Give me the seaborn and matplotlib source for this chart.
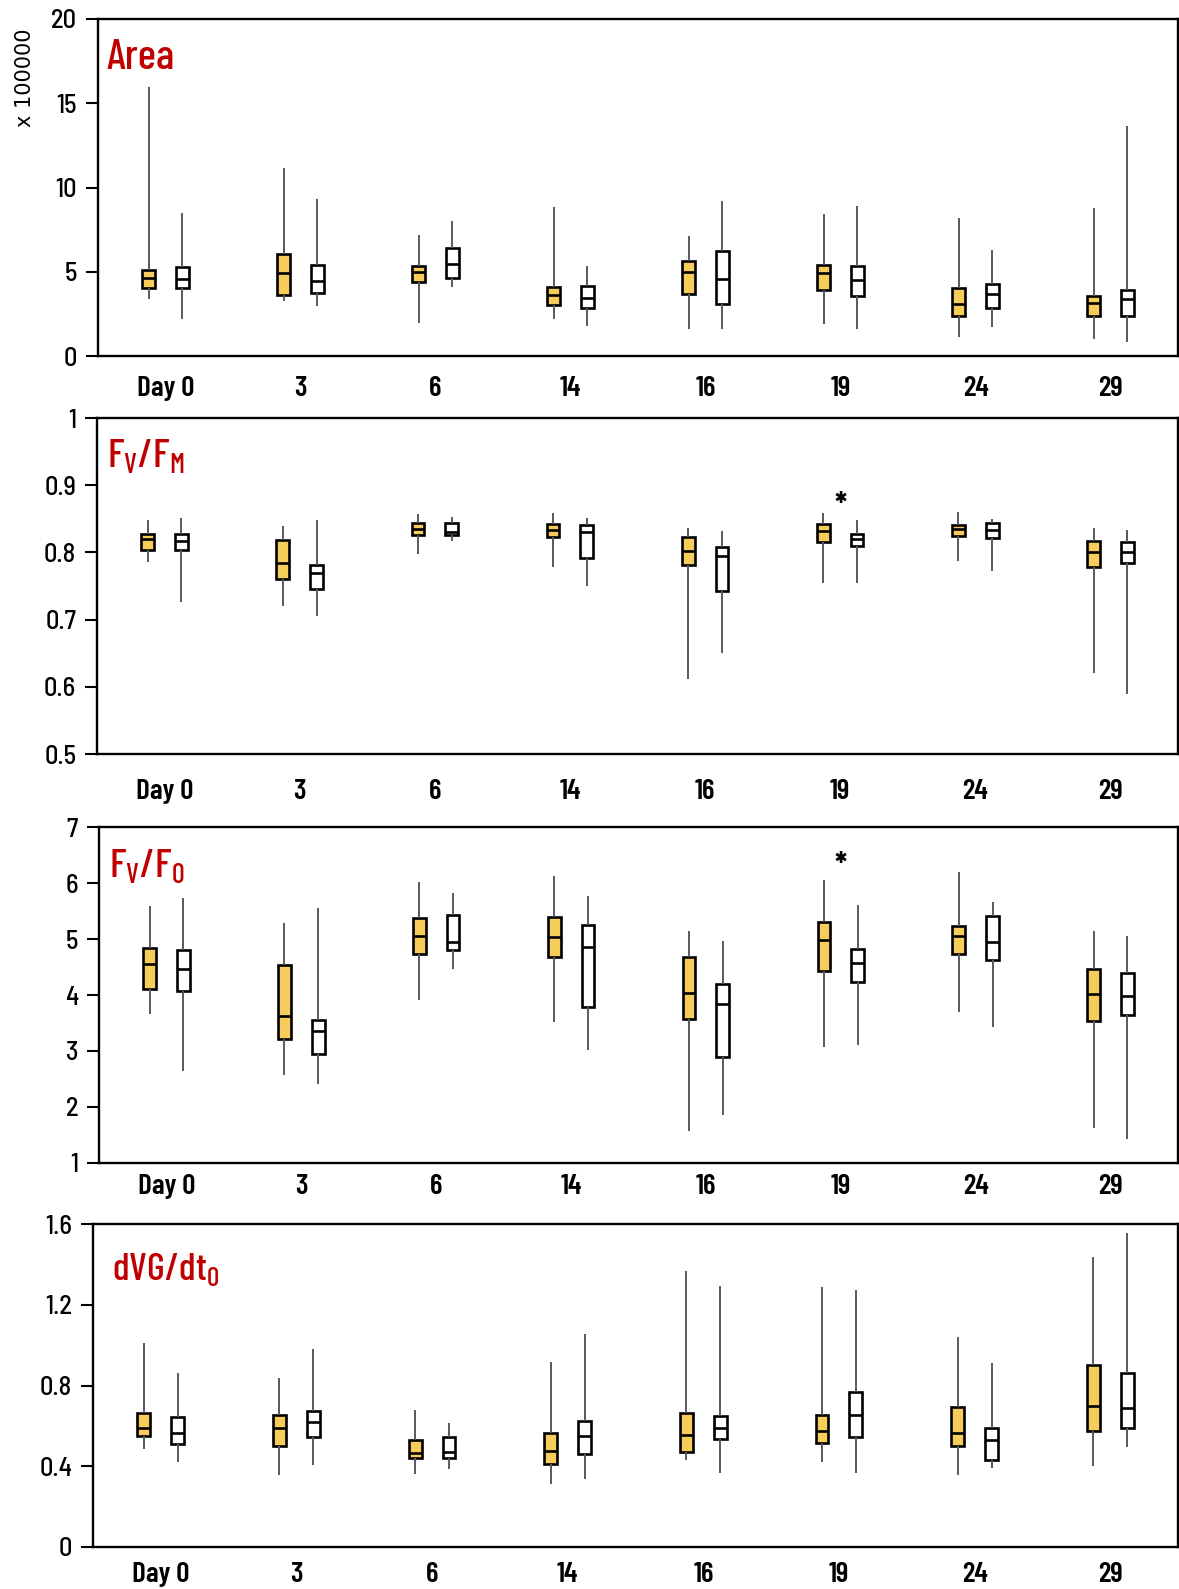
import numpy as np
import pandas as pd
import matplotlib
matplotlib.use("Agg")
import matplotlib.pyplot as plt
import seaborn as sns

# ---------------- data (min, q1, median, q3, max) ----------------
days = ["Day 0", "3", "6", "14", "16", "19", "24", "29"]
groups = ["A", "B"]

area_A = [[3.38, 4.06, 4.65, 5.10, 15.94], [3.26, 3.60, 4.91, 6.03, 11.18],
          [1.94, 4.41, 5.00, 5.34, 7.18], [2.18, 3.05, 3.62, 4.10, 8.82],
          [1.60, 3.66, 5.00, 5.66, 7.12], [1.92, 3.92, 4.95, 5.40, 8.45],
          [1.11, 2.35, 3.07, 4.02, 8.19], [0.99, 2.35, 3.15, 3.58, 8.76]]
area_B = [[2.18, 4.04, 4.55, 5.28, 8.47], [2.97, 3.72, 4.45, 5.40, 9.34],
          [4.08, 4.63, 5.46, 6.41, 8.01], [1.80, 2.83, 3.46, 4.15, 5.36],
          [1.60, 3.11, 4.59, 6.23, 9.20], [1.60, 3.54, 4.51, 5.34, 8.92],
          [1.74, 2.85, 3.66, 4.25, 6.31], [0.85, 2.35, 3.38, 3.94, 13.65]]

fvfm_A = [[0.786, 0.804, 0.820, 0.828, 0.848], [0.720, 0.761, 0.784, 0.819, 0.840],
          [0.797, 0.826, 0.835, 0.844, 0.857], [0.778, 0.823, 0.834, 0.842, 0.859],
          [0.612, 0.781, 0.802, 0.823, 0.837], [0.755, 0.815, 0.832, 0.843, 0.859],
          [0.787, 0.824, 0.835, 0.841, 0.860], [0.620, 0.779, 0.801, 0.817, 0.837]]
fvfm_B = [[0.726, 0.803, 0.817, 0.828, 0.851], [0.705, 0.746, 0.770, 0.781, 0.848],
          [0.817, 0.826, 0.831, 0.844, 0.853], [0.750, 0.792, 0.830, 0.841, 0.851],
          [0.650, 0.742, 0.794, 0.808, 0.832], [0.755, 0.809, 0.820, 0.828, 0.848],
          [0.773, 0.822, 0.834, 0.844, 0.850], [0.589, 0.784, 0.800, 0.815, 0.833]]

fvf0_A = [[3.66, 4.11, 4.55, 4.84, 5.59], [2.57, 3.21, 3.63, 4.54, 5.28],
          [3.91, 4.74, 5.05, 5.37, 6.02], [3.51, 4.67, 5.03, 5.39, 6.13],
          [1.58, 3.57, 4.04, 4.67, 5.14], [3.08, 4.42, 4.99, 5.31, 6.06],
          [3.69, 4.73, 5.06, 5.24, 6.19], [1.62, 3.54, 4.01, 4.46, 5.15]]
fvf0_B = [[2.65, 4.08, 4.46, 4.80, 5.74], [2.41, 2.94, 3.36, 3.55, 5.56],
          [4.46, 4.80, 4.94, 5.43, 5.83], [3.01, 3.79, 4.85, 5.25, 5.76],
          [1.86, 2.89, 3.84, 4.20, 4.96], [3.10, 4.23, 4.58, 4.82, 5.60],
          [3.42, 4.62, 4.95, 5.41, 5.66], [1.43, 3.64, 3.99, 4.40, 5.06]]

dvg_A = [[0.486, 0.550, 0.588, 0.666, 1.013], [0.359, 0.498, 0.588, 0.653, 0.835],
         [0.364, 0.441, 0.468, 0.529, 0.678], [0.311, 0.410, 0.476, 0.564, 0.914],
         [0.430, 0.471, 0.554, 0.664, 1.365], [0.423, 0.514, 0.577, 0.653, 1.286],
         [0.359, 0.498, 0.564, 0.694, 1.040], [0.402, 0.574, 0.699, 0.901, 1.435]]
dvg_B = [[0.423, 0.509, 0.564, 0.643, 0.861], [0.405, 0.545, 0.621, 0.674, 0.983],
         [0.385, 0.441, 0.469, 0.544, 0.615], [0.337, 0.463, 0.549, 0.626, 1.056],
         [0.369, 0.536, 0.590, 0.648, 1.291], [0.369, 0.545, 0.653, 0.769, 1.271],
         [0.392, 0.431, 0.529, 0.588, 0.912], [0.496, 0.588, 0.689, 0.864, 1.555]]

titles = ["Area", r"$\mathregular{F_V/F_M}$", r"$\mathregular{F_V/F_0}$",
          r"$\mathregular{dVG/dt_0}$"]
yticks = [[0, 5, 10, 15, 20], [0.5, 0.6, 0.7, 0.8, 0.9, 1.0], [1, 2, 3, 4, 5, 6, 7],
          [0, 0.4, 0.8, 1.2, 1.6]]
ytick_labels = [["0", "5", "10", "15", "20"], ["0.5", "0.6", "0.7", "0.8", "0.9", "1"],
                ["1", "2", "3", "4", "5", "6", "7"], ["0", "0.4", "0.8", "1.2", "1.6"]]
star_pos = [None, ("19", 0.853), ("19", 6.10), None]

# ---------------- style ----------------
sns.set_theme(style="white")
FONT = ["Barlow Condensed", "DejaVu Sans"]
YFONT = ["Barlow Semi Condensed", "Barlow Condensed", "DejaVu Sans"]
plt.rcParams["font.family"] = FONT
plt.rcParams["mathtext.default"] = "regular"
plt.rcParams["mathtext.fontset"] = "custom"
plt.rcParams["mathtext.rm"] = "Barlow Condensed:weight=500"

YELLOW = "#F6CC5A"
RED = "#C00000"
W, H = 1179, 1589
fig = plt.figure(figsize=(W / 100, H / 100), dpi=100)

# axes boxes in pixels: left, top, bottom
boxes = [(98, 19, 356), (97, 418, 754), (99, 827, 1163), (93, 1224, 1547)]
xpads = [14.5, 18, 8, 10.5]
title_xy = [(0.0074, 0.853), (0.0093, 0.852), (0.0093, 0.850), (0.0175, 0.826)]
title_size = [31, 29, 29, 28]

panels = [(area_A, area_B), (fvfm_A, fvfm_B), (fvf0_A, fvf0_B), (dvg_A, dvg_B)]

for i, (dA, dB) in enumerate(panels):
    left, top, bottom = boxes[i]
    ax = fig.add_axes([left / W, 1 - bottom / H, (1178 - left) / W, (bottom - top) / H])
    rows = []
    for g, d in zip(groups, (dA, dB)):
        for day, vals in zip(days, d):
            for v in vals:
                rows.append((day, g, v))
    df = pd.DataFrame(rows, columns=["day", "group", "value"])
    sns.boxplot(data=df, x="day", y="value", hue="group", order=days, hue_order=groups,
                palette={"A": YELLOW, "B": "white"}, saturation=1, width=0.5, gap=0.62,
                whis=(0, 100), showcaps=False, linecolor="black", linewidth=1.9,
                whiskerprops=dict(color="#5a5a5a", linewidth=1.4),
                medianprops=dict(color="black", linewidth=1.9),
                legend=False, ax=ax)
    ax.set_xlim(-0.5, 7.5)
    ax.set_ylim(yticks[i][0], yticks[i][-1])
    ax.set_yticks(yticks[i])
    ax.set_yticklabels(ytick_labels[i])
    ax.set_xlabel("")
    ax.set_ylabel("")
    for s in ax.spines.values():
        s.set_visible(True)
        s.set_color("black")
        s.set_linewidth(1.7)
    ax.tick_params(axis="y", left=True, direction="out", length=9, width=1.5,
                   labelsize=19, pad=6, colors="black")
    ax.tick_params(axis="x", bottom=False, length=0, labelsize=21, pad=xpads[i],
                   colors="black")
    for lab in ax.get_xticklabels():
        lab.set_fontweight(600)
    for lab in ax.get_yticklabels():
        lab.set_fontweight(500)
        lab.set_family(YFONT)
    ax.text(title_xy[i][0], title_xy[i][1], titles[i], transform=ax.transAxes, color=RED,
            fontsize=title_size[i], fontweight=500, va="baseline", ha="left")
    if star_pos[i] is not None:
        ax.text(days.index(star_pos[i][0]), star_pos[i][1], "*", fontsize=24,
                fontweight="bold", ha="center", va="baseline", color="black")

fig.text(25 / W, 1 - 78 / H, "x 100000", rotation=90, ha="center", va="center",
         fontsize=15, family=["DejaVu Sans"], color="black")

fig.savefig("out.png", dpi=100, facecolor="white")
